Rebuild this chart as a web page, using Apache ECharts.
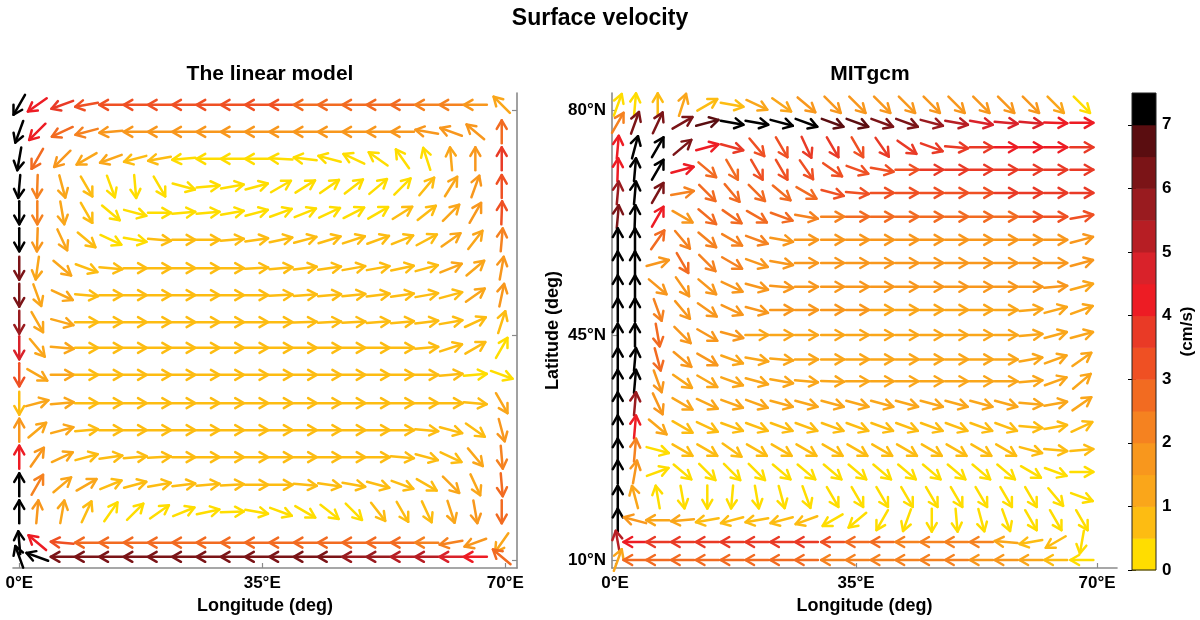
<!DOCTYPE html>
<html>
<head>
<meta charset="utf-8">
<title>Surface velocity</title>
<script src="https://cdn.jsdelivr.net/npm/echarts@6.0.0/dist/echarts.min.js"></script>
<style>
    html, body {margin: 0; padding: 0; background: #fff;}
    #chart {width: 1200px; height: 620px;}
</style>
</head>
<body>
<div id="chart"></div>
<script>
// ---------- data ----------
var xTicks = [0, 35, 70];
var yTicks = [10, 45, 80];

// arrow grid, linear model (21 columns x 18 rows)
var linLon = [0, 2.6, 6.2, 9.7, 13.2, 16.7, 20.2, 23.7, 27.2, 30.7, 34.2, 37.7, 41.2, 44.7, 48.2, 51.7, 55.2, 58.7, 62.2, 65.7, 69.5];
var linLat = [80.8, 76.6, 72.4, 68.1, 64.0, 59.8, 55.4, 51.2, 47.0, 43.0, 38.8, 34.4, 30.2, 26.0, 21.7, 17.5, 12.7, 10.5];

// direction in degrees (0 = east, 90 = north), one row per latitude, top to bottom
var linAng = [
    [240, 215, 200, 190, 180, 180, 180, 180, 180, 180, 180, 180, 180, 180, 180, 180, 180, 180, 180, 180, 135],
    [250, 225, 205, 195, 185, 180, 180, 180, 180, 180, 180, 180, 180, 180, 180, 180, 180, 170, 160, 140, 90],
    [260, 240, 225, 210, 200, 195, 190, 185, 180, 180, 180, 177, 173, 165, 155, 145, 125, 108, 95, 90, 90],
    [265, 268, 285, 300, 290, 275, 300, 345, 5, 10, 15, 30, 32, 35, 38, 40, 45, 50, 58, 70, 90],
    [270, 270, 280, 300, 320, 345, 0, 5, 5, 10, 15, 20, 22, 25, 27, 30, 32, 38, 45, 60, 88],
    [270, 268, 295, 320, 335, 350, 355, 0, 0, 5, 8, 12, 15, 17, 18, 20, 22, 28, 35, 52, 85],
    [270, 262, 320, 340, 355, 0, 0, 0, 0, 0, 3, 5, 7, 8, 10, 10, 12, 15, 22, 40, 80],
    [270, 290, 335, 355, 0, 0, 0, 0, 0, 0, 0, 3, 4, 5, 6, 7, 8, 10, 15, 35, 78],
    [270, 300, 345, 0, 0, 0, 0, 0, 0, 0, 0, 0, 2, 3, 3, 4, 5, 7, 10, 25, 72],
    [270, 310, 355, 0, 0, 0, 0, 0, 0, 0, 0, 0, 0, 0, 0, 0, 0, 5, 18, 30, 60],
    [270, 330, 0, 0, 0, 0, 0, 0, 0, 0, 0, 0, 0, 0, 0, 0, 0, 0, 5, 5, 340],
    [270, 15, 5, 0, 0, 0, 0, 0, 0, 0, 0, 0, 0, 0, 0, 0, 0, 0, 0, 355, 300],
    [90, 40, 15, 5, 0, 0, 0, 0, 0, 0, 0, 0, 0, 0, 0, 0, 0, 355, 345, 325, 285],
    [90, 55, 25, 15, 8, 5, 3, 0, 0, 0, 0, 0, 0, 0, 0, 0, 355, 345, 335, 310, 275],
    [90, 60, 40, 30, 22, 15, 10, 7, 5, 3, 0, 0, 355, 352, 350, 345, 340, 330, 315, 295, 275],
    [90, 85, 80, 65, 55, 45, 35, 22, 12, 2, 350, 340, 330, 322, 315, 308, 300, 295, 288, 280, 270],
    [95, 140, 175, 180, 180, 180, 180, 180, 180, 180, 180, 180, 180, 180, 180, 180, 180, 180, 190, 200, 235],
    [110, 160, 180, 180, 180, 180, 180, 180, 180, 180, 180, 180, 180, 180, 180, 180, 180, 180, 180, 180, 140]
];

// speed in cm/s
var linSpd = [
    [7.2, 4.3, 3.8, 3.4, 3.2, 3.2, 3.2, 3.2, 3.1, 3.0, 3.0, 3.0, 2.9, 2.8, 2.7, 2.7, 2.6, 2.4, 2.3, 1.9, 1.2],
    [7.2, 4.3, 2.8, 2.2, 1.8, 1.7, 1.6, 1.6, 1.5, 1.5, 1.5, 1.6, 1.7, 1.8, 1.8, 1.8, 1.7, 1.6, 1.6, 1.8, 2.8],
    [7.2, 2.8, 1.8, 1.3, 1.2, 0.8, 0.6, 0.4, 0.4, 0.4, 0.4, 0.4, 0.4, 0.4, 0.4, 0.4, 0.4, 0.4, 1.2, 1.8, 3.7],
    [7.2, 2.3, 1.3, 0.6, 0.4, 0.4, 0.4, 0.4, 0.4, 0.4, 0.4, 0.4, 0.4, 0.4, 0.4, 0.4, 0.4, 0.6, 1.1, 1.8, 3.0],
    [7.2, 2.0, 1.1, 0.5, 0.4, 0.4, 0.4, 0.4, 0.4, 0.4, 0.4, 0.4, 0.4, 0.4, 0.4, 0.4, 0.5, 0.7, 1.3, 1.7, 3.0],
    [7.2, 1.8, 1.1, 0.6, 0.4, 0.4, 0.6, 0.7, 0.8, 0.8, 0.8, 0.8, 0.8, 0.8, 0.8, 0.8, 0.8, 0.9, 1.0, 1.3, 2.0],
    [6.2, 1.2, 1.0, 0.9, 0.9, 0.9, 0.9, 0.9, 0.9, 0.9, 0.9, 0.9, 0.9, 0.9, 0.9, 0.9, 0.9, 0.9, 1.0, 1.2, 1.8],
    [6.0, 1.2, 1.0, 0.9, 0.9, 0.9, 0.9, 0.9, 0.9, 0.9, 0.9, 0.9, 0.9, 0.9, 0.9, 0.9, 0.9, 0.9, 0.9, 1.1, 1.7],
    [5.6, 1.2, 1.0, 0.9, 0.9, 0.9, 0.9, 0.9, 0.9, 0.9, 0.9, 0.9, 0.9, 0.9, 0.9, 0.9, 0.9, 0.9, 0.8, 0.8, 0.8],
    [4.6, 1.1, 1.0, 0.9, 0.9, 0.9, 0.9, 0.9, 0.9, 0.9, 0.9, 0.9, 0.9, 0.9, 0.9, 0.9, 0.9, 0.8, 0.7, 0.6, 0.4],
    [3.0, 1.0, 1.0, 0.9, 0.9, 0.9, 0.9, 0.9, 0.9, 0.9, 0.9, 0.9, 0.9, 0.9, 0.9, 0.9, 0.8, 0.7, 0.6, 0.4, 0.4],
    [0.9, 1.1, 1.0, 0.9, 0.9, 0.9, 0.9, 0.9, 0.9, 0.9, 0.9, 0.9, 0.9, 0.9, 0.9, 0.9, 0.8, 0.7, 0.6, 0.6, 1.2],
    [1.8, 1.2, 1.0, 0.9, 0.9, 0.9, 0.9, 0.9, 0.9, 0.9, 0.9, 0.9, 0.9, 0.9, 0.9, 0.9, 0.8, 0.8, 0.8, 0.9, 1.8],
    [4.3, 1.6, 1.1, 0.9, 0.9, 0.9, 0.9, 0.9, 0.9, 0.9, 0.9, 0.9, 0.9, 0.9, 0.9, 0.9, 0.9, 0.9, 0.9, 1.1, 2.2],
    [7.2, 2.2, 1.1, 1.0, 0.9, 0.9, 0.9, 0.9, 0.9, 0.9, 0.9, 0.9, 0.9, 0.9, 0.9, 0.9, 0.9, 0.9, 1.0, 1.3, 2.7],
    [7.2, 1.8, 1.2, 0.6, 0.4, 0.4, 0.4, 0.4, 0.4, 0.4, 0.4, 0.4, 0.4, 0.4, 0.4, 0.5, 0.6, 0.7, 1.0, 1.6, 2.8],
    [7.2, 4.3, 3.3, 2.8, 2.8, 2.8, 2.8, 2.8, 2.8, 2.8, 2.8, 2.8, 2.7, 2.7, 2.6, 2.6, 2.6, 2.4, 2.2, 1.8, 1.2],
    [7.2, 7.2, 6.3, 6.3, 6.3, 6.3, 6.3, 6.3, 6.3, 6.3, 6.2, 6.2, 6.1, 6.0, 5.8, 5.6, 5.3, 5.0, 4.7, 4.3, 2.8]
];

// arrow grid, MITgcm (20 columns x 21 rows)
var mitLon = [0.4, 2.9, 6.2, 9.8, 13.4, 17.0, 20.6, 24.2, 27.8, 31.6, 35.2, 38.8, 42.4, 46.0, 49.6, 53.2, 56.8, 60.4, 64.0, 67.8];
var mitLat = [80.8, 78.0, 74.2, 70.7, 67.1, 63.4, 59.8, 56.2, 52.5, 48.9, 45.0, 41.2, 37.8, 34.3, 30.7, 27.1, 23.7, 19.8, 16.2, 12.8, 10.0];

var mitAng = [
    [70, 85, 90, 72, 30, 350, 335, 325, 320, 315, 315, 315, 315, 315, 315, 315, 315, 315, 315, 315],
    [60, 70, 65, 30, 15, 350, 350, 345, 340, 340, 340, 340, 340, 345, 350, 350, 355, 355, 358, 0],
    [85, 75, 60, 40, 15, 345, 310, 300, 295, 300, 300, 305, 325, 340, 355, 0, 0, 0, 0, 0],
    [88, 85, 60, 15, 320, 300, 300, 300, 305, 325, 340, 350, 0, 0, 0, 0, 0, 0, 0, 0],
    [85, 85, 60, 10, 315, 310, 315, 320, 330, 345, 355, 0, 0, 0, 0, 0, 0, 0, 0, 0],
    [85, 88, 60, 330, 320, 325, 330, 340, 350, 0, 0, 0, 0, 0, 0, 0, 0, 0, 0, 10],
    [90, 90, 55, 310, 320, 330, 340, 350, 0, 0, 0, 0, 0, 0, 0, 0, 0, 0, 0, 15],
    [90, 90, 15, 300, 315, 330, 340, 350, 0, 0, 0, 0, 0, 0, 0, 0, 0, 0, 0, 15],
    [90, 90, 320, 305, 320, 335, 345, 355, 0, 0, 0, 0, 0, 0, 0, 0, 0, 0, 5, 15],
    [90, 90, 290, 310, 325, 335, 345, 0, 0, 0, 0, 0, 0, 0, 0, 0, 0, 5, 15, 20],
    [90, 90, 280, 315, 330, 345, 0, 0, 0, 0, 0, 0, 0, 0, 0, 0, 0, 5, 15, 15],
    [90, 85, 285, 320, 330, 340, 350, 355, 0, 0, 0, 0, 0, 0, 0, 0, 0, 10, 20, 35],
    [90, 85, 290, 325, 330, 340, 345, 350, 355, 358, 0, 0, 0, 0, 0, 0, 0, 5, 20, 40],
    [90, 85, 295, 330, 335, 340, 340, 345, 345, 345, 345, 345, 345, 345, 345, 345, 345, 355, 10, 35],
    [90, 85, 320, 330, 335, 340, 340, 340, 340, 340, 340, 340, 340, 340, 340, 340, 340, 355, 10, 25],
    [90, 85, 345, 330, 330, 325, 330, 330, 330, 330, 330, 330, 330, 330, 330, 330, 330, 345, 355, 5],
    [90, 80, 20, 320, 315, 315, 315, 320, 320, 320, 320, 320, 320, 320, 320, 320, 320, 330, 340, 0],
    [90, 105, 100, 280, 270, 265, 280, 285, 290, 300, 300, 300, 300, 300, 300, 300, 300, 300, 310, 340],
    [90, 165, 180, 185, 190, 195, 190, 195, 200, 210, 220, 240, 250, 270, 275, 285, 290, 300, 300, 300],
    [100, 180, 180, 180, 180, 180, 180, 180, 180, 180, 180, 180, 180, 180, 180, 180, 175, 190, 210, 260],
    [70, 180, 180, 180, 180, 180, 180, 180, 180, 180, 180, 180, 180, 180, 180, 180, 180, 180, 180, 180]
];

var mitSpd = [
    [0.3, 0.4, 0.8, 1.2, 0.9, 0.8, 1.2, 1.3, 1.6, 1.7, 1.7, 1.7, 1.7, 1.7, 1.7, 1.7, 1.7, 1.6, 1.1, 0.4],
    [2.3, 6.2, 6.3, 6.3, 6.7, 7.2, 7.2, 7.2, 7.2, 6.8, 6.5, 6.3, 6.0, 5.6, 5.2, 4.9, 4.7, 4.5, 4.4, 4.3],
    [4.3, 7.2, 7.2, 6.3, 4.3, 3.8, 3.3, 3.2, 3.6, 3.6, 3.3, 3.6, 3.7, 3.8, 3.9, 3.9, 4.0, 4.0, 4.0, 3.9],
    [4.4, 7.2, 7.2, 4.3, 2.8, 2.9, 3.2, 3.2, 3.2, 3.2, 3.2, 3.3, 3.4, 3.5, 3.6, 3.6, 3.7, 3.7, 3.7, 3.6],
    [5.8, 7.2, 6.3, 2.3, 2.8, 2.8, 2.7, 2.8, 2.9, 3.0, 3.0, 3.1, 3.2, 3.2, 3.3, 3.4, 3.5, 3.6, 3.7, 3.7],
    [6.2, 7.2, 4.3, 1.8, 2.7, 2.6, 2.5, 2.5, 2.4, 2.4, 2.5, 2.6, 2.7, 2.8, 2.8, 2.9, 2.9, 3.0, 3.2, 3.4],
    [7.2, 7.2, 2.8, 2.2, 2.2, 2.1, 2.0, 1.9, 1.8, 1.8, 1.8, 1.8, 1.8, 1.8, 1.8, 1.8, 1.8, 1.8, 1.8, 1.7],
    [7.2, 7.2, 1.8, 2.7, 2.3, 2.1, 1.9, 1.8, 1.8, 1.8, 1.7, 1.7, 1.7, 1.7, 1.7, 1.7, 1.7, 1.7, 1.6, 1.6],
    [7.2, 7.2, 1.8, 1.8, 1.7, 1.6, 1.6, 1.6, 1.6, 1.6, 1.6, 1.6, 1.6, 1.6, 1.5, 1.5, 1.5, 1.5, 1.5, 1.4],
    [7.2, 7.2, 2.3, 1.8, 1.7, 1.6, 1.5, 1.5, 1.5, 1.5, 1.5, 1.4, 1.3, 1.3, 1.2, 1.2, 1.2, 1.2, 1.2, 1.2],
    [7.2, 7.2, 2.8, 1.8, 1.6, 1.5, 1.4, 1.4, 1.3, 1.2, 1.2, 1.2, 1.2, 1.2, 1.2, 1.1, 1.1, 1.1, 1.1, 1.1],
    [7.2, 7.2, 2.8, 1.8, 1.5, 1.4, 1.4, 1.4, 1.4, 1.4, 1.4, 1.4, 1.4, 1.4, 1.4, 1.3, 1.3, 1.3, 1.3, 1.3],
    [7.2, 7.2, 1.8, 1.2, 1.3, 1.3, 1.3, 1.3, 1.3, 1.3, 1.3, 1.3, 1.3, 1.3, 1.3, 1.3, 1.3, 1.3, 1.3, 1.3],
    [7.2, 5.6, 1.8, 1.2, 1.1, 1.1, 1.1, 1.1, 1.1, 1.2, 1.2, 1.2, 1.2, 1.2, 1.2, 1.2, 1.2, 1.2, 1.2, 1.3],
    [7.2, 4.3, 1.2, 0.9, 0.9, 0.9, 0.9, 0.9, 0.9, 0.9, 0.9, 0.9, 0.9, 0.9, 0.9, 0.9, 0.8, 0.8, 0.7, 0.6],
    [7.2, 2.3, 0.4, 0.7, 0.8, 0.8, 0.8, 0.8, 0.8, 0.8, 0.8, 0.8, 0.8, 0.8, 0.7, 0.7, 0.7, 0.6, 0.6, 0.6],
    [7.2, 1.8, 0.4, 0.4, 0.4, 0.4, 0.4, 0.4, 0.4, 0.4, 0.4, 0.4, 0.4, 0.4, 0.4, 0.4, 0.4, 0.4, 0.4, 0.4],
    [7.2, 1.2, 0.4, 0.4, 0.4, 0.4, 0.4, 0.4, 0.4, 0.4, 0.4, 0.4, 0.4, 0.4, 0.4, 0.4, 0.4, 0.4, 0.4, 0.4],
    [7.2, 1.8, 1.1, 1.0, 0.8, 0.7, 0.6, 0.6, 0.5, 0.4, 0.4, 0.4, 0.4, 0.4, 0.4, 0.4, 0.4, 0.4, 0.4, 0.4],
    [5.3, 4.3, 3.9, 3.8, 3.8, 3.7, 3.7, 3.6, 3.5, 3.0, 2.8, 2.6, 2.3, 2.2, 2.2, 2.0, 1.4, 0.8, 0.6, 0.4],
    [1.2, 2.8, 2.8, 2.8, 2.8, 2.8, 2.7, 2.7, 2.6, 2.4, 2.3, 2.2, 2.2, 2.2, 2.1, 1.9, 1.7, 1.2, 0.8, 0.4]
];

// colour bar: bin edges (cm/s) and tick labels
var cbarEdges = [0, 0.5, 1, 1.5, 2, 2.5, 3, 3.5, 4, 4.5, 5, 5.5, 6, 6.5, 7, 7.5];
var cbarTicks = [0, 1, 2, 3, 4, 5, 6, 7];

// ---------- styles ----------
var binColors = ['#ffdd00', '#fdbc12', '#faa61a', '#f8971d', '#f58220', '#f26b21', '#ef5023', '#e93a26',
    '#ed1c24', '#d9222a', '#b71e24', '#991b1f', '#7b1417', '#5a0d10', '#000000'];
var FONT = 'Liberation Sans, Arial, Helvetica, sans-serif';
var AXIS_GRAY = '#8a8a8a';
var ARROW_LEN = 23;      // px, every arrow same length
var HEAD_LEN = 10;
var HEAD_ANG = 30 * Math.PI / 180;
var ARROW_W = 2.5;

function speedColor(s) {
    for (var k = 0; k < binColors.length; k++) {
        if (s < cbarEdges[k + 1]) return binColors[k];
    }
    return binColors[binColors.length - 1];
}

//把网格和角度/速度拼成 custom series 的数据
function buildField(lons, lats, angs, spds) {
    var out = [];
    for (var i = 0; i < lats.length; i++) {
        for (var j = 0; j < lons.length; j++) {
            out.push([lons[j], lats[i], angs[i][j], spds[i][j]]);
        }
    }
    return out;
}

//画一个箭头（中心在网格点上）
function renderArrow(params, api) {
    var p = api.coord([api.value(0), api.value(1)]);
    var phi = -api.value(2) * Math.PI / 180;   // screen y points down
    var ux = Math.cos(phi), uy = Math.sin(phi);
    var h = ARROW_LEN / 2;
    var tail = [p[0] - ux * h, p[1] - uy * h];
    var head = [p[0] + ux * h, p[1] + uy * h];
    var b1 = [head[0] + HEAD_LEN * Math.cos(phi + Math.PI - HEAD_ANG), head[1] + HEAD_LEN * Math.sin(phi + Math.PI - HEAD_ANG)];
    var b2 = [head[0] + HEAD_LEN * Math.cos(phi + Math.PI + HEAD_ANG), head[1] + HEAD_LEN * Math.sin(phi + Math.PI + HEAD_ANG)];
    var col = speedColor(api.value(3));
    var st = {stroke: col, lineWidth: ARROW_W, fill: null, lineCap: 'round', lineJoin: 'round'};
    return {
        type: 'group',
        children: [
            {type: 'polyline', shape: {points: [tail, head]}, style: st},
            {type: 'polyline', shape: {points: [b1, head, b2]}, style: st}
        ]
    };
}

//色标
function renderBin(params, api) {
    var lo = api.value(0), hi = api.value(1);
    var p0 = api.coord([0, hi]);
    var p1 = api.coord([1, lo]);
    var children = [{
        type: 'rect',
        shape: {x: p0[0], y: p0[1], width: p1[0] - p0[0], height: p1[1] - p0[1] + 0.5},
        style: {fill: speedColor((lo + hi) / 2)}
    }];
    if (params.dataIndex === 0) {   // frame once
        var a = api.coord([0, cbarEdges[cbarEdges.length - 1]]);
        var b = api.coord([1, 0]);
        children.push({
            type: 'rect', z2: 10,
            shape: {x: a[0], y: a[1], width: b[0] - a[0], height: b[1] - a[1]},
            style: {fill: null, stroke: '#222', lineWidth: 1}
        });
    }
    return {type: 'group', children: children};
}

var binData = [];
for (var k = 0; k < cbarEdges.length - 1; k++) binData.push([cbarEdges[k], cbarEdges[k + 1]]);

function lonAxis(grid, min, max) {
    return {
        gridIndex: grid, type: 'value', min: min, max: max, position: 'bottom',
        axisLine: {show: true, onZero: false, lineStyle: {color: AXIS_GRAY, width: 1.6}},
        axisTick: {show: true, inside: true, length: 5, customValues: xTicks, lineStyle: {color: AXIS_GRAY, width: 1.2}},
        axisLabel: {
            customValues: xTicks, margin: 7, fontSize: 17, fontFamily: FONT, fontWeight: 'bold', color: '#000',
            formatter: function (v) { return v + '°E'; }
        },
        splitLine: {show: false},
        name: 'Longitude (deg)', nameLocation: 'middle', nameGap: 29,
        nameTextStyle: {fontFamily: FONT, fontWeight: 'bold', fontSize: 18, color: '#000'}
    };
}

function latAxis(grid, pos, labels) {
    var ax = {
        gridIndex: grid, type: 'value', min: 8.76, max: 82.64, position: pos,
        axisLine: {show: true, onZero: false, lineStyle: {color: AXIS_GRAY, width: 1.6}},
        axisTick: {show: true, inside: true, length: 5, customValues: yTicks, lineStyle: {color: AXIS_GRAY, width: 1.2}},
        axisLabel: {
            show: labels, customValues: yTicks, margin: 6, fontSize: 17, fontFamily: FONT, fontWeight: 'bold', color: '#000',
            formatter: function (v) { return v + '°N'; }
        },
        splitLine: {show: false}
    };
    if (labels) {
        ax.name = 'Latitude (deg)';
        ax.nameLocation = 'middle';
        ax.nameGap = 50;
        ax.nameRotate = 90;
        ax.nameTextStyle = {fontFamily: FONT, fontWeight: 'bold', fontSize: 18, color: '#000'};
    }
    return ax;
}

var myChart = echarts.init(document.getElementById('chart'), null, {renderer: 'canvas'});
var option = {
    animation: false,
    backgroundColor: '#fff',
    textStyle: {fontFamily: FONT},
    title: [
        {text: 'Surface velocity', left: 'center', top: 2, textStyle: {fontFamily: FONT, fontWeight: 'bold', fontSize: 23, color: '#000'}},
        {text: 'The linear model', left: 265, top: 59, textAlign: 'center', textStyle: {fontFamily: FONT, fontWeight: 'bold', fontSize: 21, color: '#000'}},
        {text: 'MITgcm', left: 865, top: 59, textAlign: 'center', textStyle: {fontFamily: FONT, fontWeight: 'bold', fontSize: 21, color: '#000'}}
    ],
    grid: [
        {left: 13, top: 93, width: 504, height: 475, outerBoundsMode: 'none'},
        {left: 612, top: 93, width: 505, height: 475, outerBoundsMode: 'none'},
        {left: 1132, top: 93, width: 24, height: 477, outerBoundsMode: 'none'}
    ],
    xAxis: [
        lonAxis(0, -0.9, 71.7),
        lonAxis(1, -0.44, 72.9),
        {gridIndex: 2, type: 'value', min: 0, max: 1, show: false}
    ],
    yAxis: [
        latAxis(0, 'right', false),
        latAxis(1, 'left', true),
        {
            gridIndex: 2, type: 'value', min: 0, max: 7.5, position: 'right',
            axisLine: {show: false},
            axisTick: {show: true, inside: true, length: 4, customValues: cbarTicks, lineStyle: {color: '#000'}},
            axisLabel: {customValues: cbarTicks, margin: 6, fontSize: 17, fontFamily: FONT, fontWeight: 'bold', color: '#000'},
            splitLine: {show: false},
            name: '(cm/s)', nameLocation: 'middle', nameGap: 23, nameRotate: 90,
            nameTextStyle: {fontFamily: FONT, fontWeight: 'bold', fontSize: 17, color: '#000'}
        },
        {
            gridIndex: 2, type: 'value', min: 0, max: 7.5, position: 'left',
            axisLine: {show: false},
            axisTick: {show: true, inside: true, length: 4, customValues: cbarTicks, lineStyle: {color: '#000'}},
            axisLabel: {show: false},
            splitLine: {show: false}
        }
    ],
    series: [
        {
            name: 'linear', type: 'custom', coordinateSystem: 'cartesian2d',
            xAxisIndex: 0, yAxisIndex: 0, clip: false,
            encode: {x: 0, y: 1},
            renderItem: renderArrow,
            data: buildField(linLon, linLat, linAng, linSpd)
        },
        {
            name: 'mitgcm', type: 'custom', coordinateSystem: 'cartesian2d',
            xAxisIndex: 1, yAxisIndex: 1, clip: false,
            encode: {x: 0, y: 1},
            renderItem: renderArrow,
            data: buildField(mitLon, mitLat, mitAng, mitSpd)
        },
        {
            name: 'colorbar', type: 'custom', coordinateSystem: 'cartesian2d',
            xAxisIndex: 2, yAxisIndex: 2, clip: false, z: 1,
            encode: {x: -1, y: [0, 1]},
            renderItem: renderBin,
            data: binData
        }
    ]
};
myChart.setOption(option);   //为echarts对象加载数据
</script>
</body>
</html>
